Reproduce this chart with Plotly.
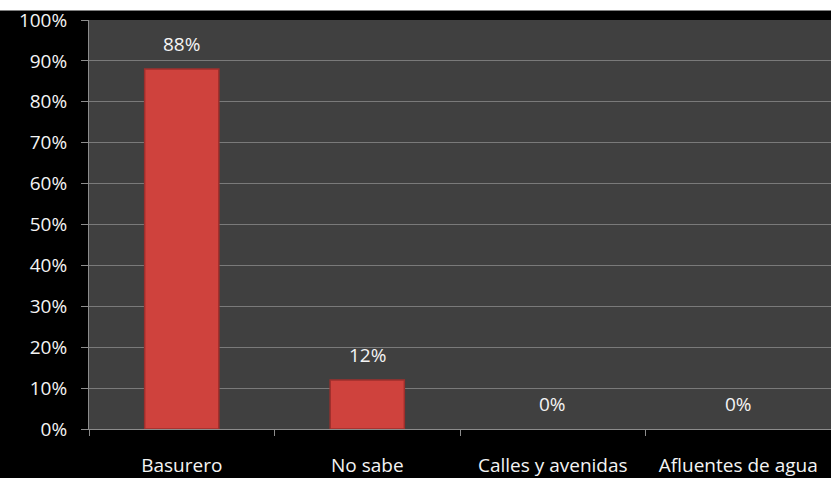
import plotly.graph_objects as go

categories = ["Basurero", "No sabe", "Calles y avenidas", "Afluentes de agua"]
values = [88, 12, 0, 0]
y_ticks = [0, 10, 20, 30, 40, 50, 60, 70, 80, 90, 100]
y_tick_labels = [f"{v}%" for v in y_ticks]

FONT = "'Open Sans', sans-serif"
TEXT = "#f4f4f4"
SIZE = 19

fig = go.Figure()
fig.add_trace(go.Bar(
    x=categories,
    y=values,
    width=0.4,
    marker=dict(
        color="#cf423d",
        line=dict(color="#9e2f2c", width=[1.5 if v > 0 else 0 for v in values]),
    ),
    hoverinfo="skip",
))

# value labels above each bar
for c, v in zip(categories, values):
    fig.add_annotation(
        x=c, y=v, text=f"{v}%", showarrow=False,
        yanchor="middle", yshift=25,
        font=dict(family=FONT, size=SIZE, color=TEXT),
    )

# white strip along the top edge
fig.add_shape(
    type="rect", xref="paper", yref="paper",
    x0=-0.2, x1=1.1, y0=1 + 9.5 / 412, y1=1.1,
    fillcolor="white", line=dict(width=0), layer="below",
)

fig.update_layout(
    width=831, height=478,
    margin=dict(l=89, r=0, t=19.5, b=46.5),
    paper_bgcolor="black",
    plot_bgcolor="#404040",
    showlegend=False,
    font=dict(family=FONT, size=SIZE, color=TEXT),
)
fig.update_yaxes(
    range=[0, 100],
    tickvals=y_ticks, ticktext=y_tick_labels,
    showgrid=True, gridcolor="#7a7a7a", gridwidth=1,
    ticks="outside", ticklen=7, tickcolor="#8c8c8c",
    showline=True, linecolor="#8c8c8c", linewidth=1,
    zeroline=False, ticklabelstandoff=10,
    tickfont=dict(family=FONT, size=SIZE, color=TEXT),
    fixedrange=True,
)
fig.update_xaxes(
    range=[-0.5, 3.5],
    tickson="boundaries", ticks="outside", ticklen=6, tickcolor="#8c8c8c",
    showline=True, linecolor="#8c8c8c", linewidth=1,
    showgrid=False, ticklabelstandoff=19,
    tickfont=dict(family=FONT, size=SIZE, color=TEXT),
    fixedrange=True,
)

fig.write_html("out.html")
